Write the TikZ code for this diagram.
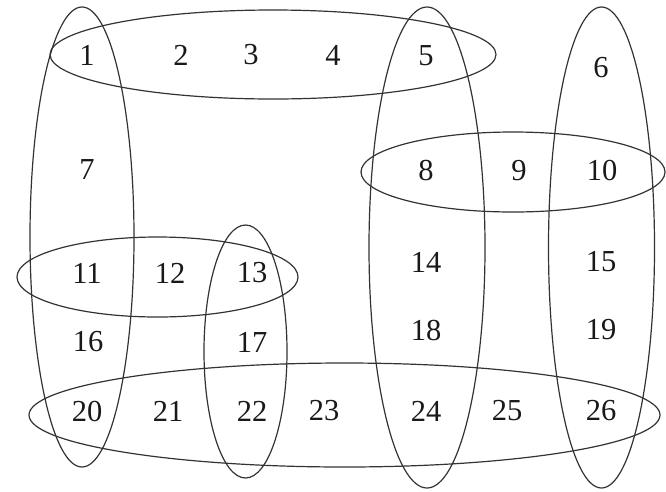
\documentclass[tikz,border=0pt]{standalone}
\usepackage{fontspec}
\setmainfont{Liberation Serif}
\begin{document}
\begin{tikzpicture}[x=1pt,y=-1pt,
  num/.style={font=\fontsize{30.5}{36}\selectfont, inner sep=0pt, text=black!90},
  edge/.style={draw=black!80, line width=1.2pt}]
\useasboundingbox (0,0) rectangle (666,491);
% numbers
\node[num] (n1) at (87,55) {1};
\node[num] (n2) at (181,55) {2};
\node[num] (n3) at (251,55) {3};
\node[num] (n4) at (333,55) {4};
\node[num] (n5) at (426,56) {5};
\node[num] (n6) at (601,68) {6};
\node[num] (n7) at (87,170) {7};
\node[num] (n8) at (426,171) {8};
\node[num] (n9) at (519,171) {9};
\node[num] (n10) at (602,171) {10};
\node[num] (n11) at (87,273) {11};
\node[num] (n12) at (170,273) {12};
\node[num] (n13) at (252,273) {13};
\node[num] (n14) at (426,262) {14};
\node[num] (n15) at (601,262) {15};
\node[num] (n16) at (88,342) {16};
\node[num] (n17) at (252,342) {17};
\node[num] (n18) at (426,330) {18};
\node[num] (n19) at (601,330) {19};
\node[num] (n20) at (87,411) {20};
\node[num] (n21) at (168,411) {21};
\node[num] (n22) at (252,411) {22};
\node[num] (n23) at (324,411) {23};
\node[num] (n24) at (426,411) {24};
\node[num] (n25) at (507,411) {25};
\node[num] (n26) at (601,411) {26};
% hyperedges
\draw[edge] (273,54.5) ellipse [x radius=223, y radius=44.5];
\draw[edge] (82,237) ellipse [x radius=52, y radius=230];
\draw[edge] (427,247.5) ellipse [x radius=58, y radius=240.5];
\draw[edge] (601.5,247.5) ellipse [x radius=53, y radius=240.5];
\draw[edge] (513,172) ellipse [x radius=152, y radius=40];
\draw[edge] (157.5,277) ellipse [x radius=140.5, y radius=40];
\draw[edge] (245.5,351.5) ellipse [x radius=41.5, y radius=126.5];
\draw[edge] (344.5,415) ellipse [x radius=315.5, y radius=52];
\end{tikzpicture}
\end{document}
